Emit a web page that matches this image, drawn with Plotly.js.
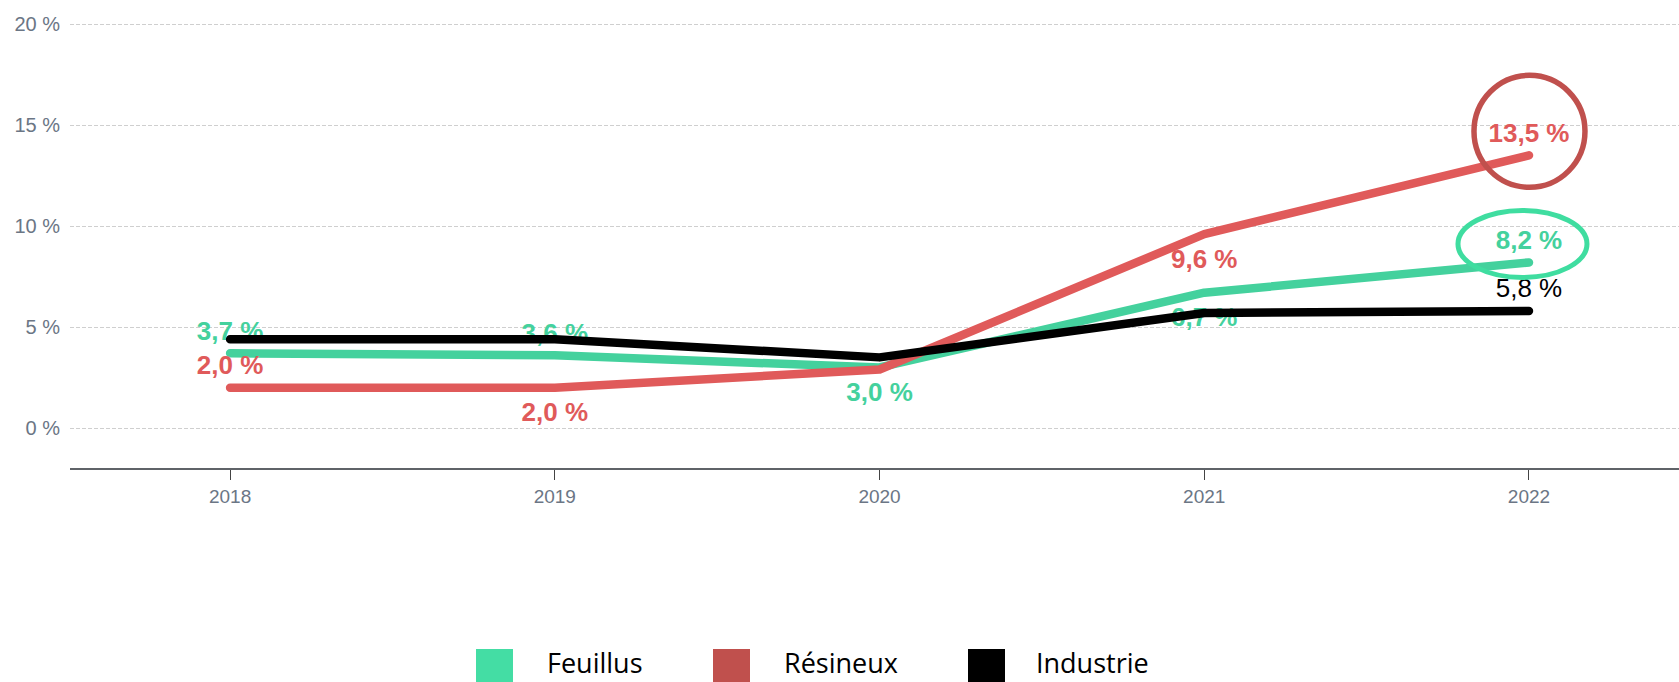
<!DOCTYPE html>
<html>
<head>
<meta charset="utf-8">
<script src="https://cdn.plot.ly/plotly-3.0.1.min.js"></script>
<style>
  html, body { margin: 0; padding: 0; background: #ffffff; }
  #chart { width: 1679px; height: 682px; }
  .scatterlayer .js-line { stroke-linecap: round; stroke-linejoin: round; }
</style>
</head>
<body>
<div id="chart"></div>
<script>
// ---- data ----
const years = ['2018', '2019', '2020', '2021', '2022'];
const feuillus = [3.7, 3.6, 3.0, 6.7, 8.2];
const resineux = [2.0, 2.0, 2.9, 9.6, 13.5];
const industrie = [4.4, 4.4, 3.5, 5.7, 5.8];
const seriesNames = ['Feuillus', 'Résineux', 'Industrie'];
const yTickVals = [0, 5, 10, 15, 20];
const yTickText = yTickVals.map(v => v + ' %');

// which points carry a value label, and where
const feuillusLabelPos = ['top center', 'top center', 'bottom center', 'bottom center', 'top center'];
const resineuxLabelPos = ['top center', 'bottom center', '', 'bottom center', 'top center'];
const industrieLabelPos = ['', '', '', '', 'top center'];

// ---- styling ----
const lineColors = ['#44D19D', '#E05A5A', '#000000'];
const legendColors = ['#44DDA4', '#C0504D', '#000000'];
const W = 1679, H = 682;
const M = { l: 70, r: 0, t: 23, b: 214 };
const plotW = W - M.l - M.r, plotH = H - M.t - M.b;
const pxX = px => (px - M.l) / plotW;
const pxY = py => (H - M.b - py) / plotH;
const lastIdx = years.length - 1;

function fmt(v) { return v.toFixed(1).replace('.', ',') + ' %'; }

function makeTrace(name, values, positions, color, bold) {
  return {
    type: 'scatter',
    mode: 'lines+markers+text',
    name: name,
    x: years,
    y: values,
    text: values.map((v, i) => positions[i] ? fmt(v) : ''),
    textposition: positions.map(p => p || 'top center'),
    textfont: { family: 'Liberation Sans, Arial, sans-serif', size: 26, color: color, weight: bold ? 'bold' : 'normal' },
    line: { color: color, width: 8.5 },
    marker: { size: positions.map(p => p.indexOf('bottom') === 0 ? 21 : 10), opacity: 0, color: color },
    hoverinfo: 'skip',
    cliponaxis: false
  };
}

const traces = [
  makeTrace(seriesNames[0], feuillus, feuillusLabelPos, lineColors[0], true),
  makeTrace(seriesNames[1], resineux, resineuxLabelPos, lineColors[1], true),
  makeTrace(seriesNames[2], industrie, industrieLabelPos, lineColors[2], false)
];

const xTickFont = { family: 'Liberation Sans, Arial, sans-serif', size: 19, color: '#6b7685' };
const yTickFont = { family: 'Liberation Sans, Arial, sans-serif', size: 20, color: '#6b7685' };

// highlight ellipses around the 2022 labels, anchored to the last data points
const shapes = [
  {
    type: 'circle', xref: 'x', yref: 'y', xsizemode: 'pixel', ysizemode: 'pixel',
    xanchor: lastIdx, yanchor: resineux[lastIdx],
    x0: -55, x1: 56, y0: -32, y1: 80,
    line: { color: '#C0504D', width: 5.5 }, layer: 'above'
  },
  {
    type: 'circle', xref: 'x', yref: 'y', xsizemode: 'pixel', ysizemode: 'pixel',
    xanchor: lastIdx, yanchor: feuillus[lastIdx],
    x0: -71, x1: 58, y0: -15, y1: 52,
    line: { color: '#3FDDA0', width: 5 }, layer: 'above'
  }
];

// custom legend at the bottom
const legendSquareX = [476, 713, 968];
const legendTextX = [545, 782, 1034];
const annotations = [];
seriesNames.forEach((n, i) => {
  shapes.push({
    type: 'rect', xref: 'paper', yref: 'paper',
    x0: pxX(legendSquareX[i]), x1: pxX(legendSquareX[i] + 37),
    y0: pxY(649), y1: pxY(690),
    fillcolor: legendColors[i], line: { width: 0 }, layer: 'above'
  });
  annotations.push({
    xref: 'paper', yref: 'paper', x: pxX(legendTextX[i]), y: pxY(683),
    xanchor: 'left', yanchor: 'bottom', showarrow: false, text: n,
    font: { family: 'Open Sans, Liberation Sans, sans-serif', size: 27, color: '#000000' }
  });
});

const layout = {
  width: W, height: H,
  margin: M,
  paper_bgcolor: '#ffffff', plot_bgcolor: '#ffffff',
  showlegend: false,
  xaxis: {
    type: 'category', range: [-0.493, 4.462],
    showgrid: false, zeroline: false,
    showline: true, linecolor: '#5f6368', linewidth: 2,
    ticks: 'outside', ticklen: 10, tickwidth: 1, tickcolor: '#444444',
    tickfont: xTickFont, fixedrange: true
  },
  yaxis: {
    range: [-1.975, 20.05], tickmode: 'array', tickvals: yTickVals, ticktext: yTickText,
    showgrid: true, gridcolor: '#cfcfcf', gridwidth: 1, griddash: '4px,2px',
    zeroline: false, showline: false, ticks: '',
    tickfont: yTickFont, ticklabelstandoff: 9, fixedrange: true
  },
  shapes: shapes,
  annotations: annotations
};

Plotly.newPlot('chart', traces, layout, { displayModeBar: false, staticPlot: true });
</script>
</body>
</html>
